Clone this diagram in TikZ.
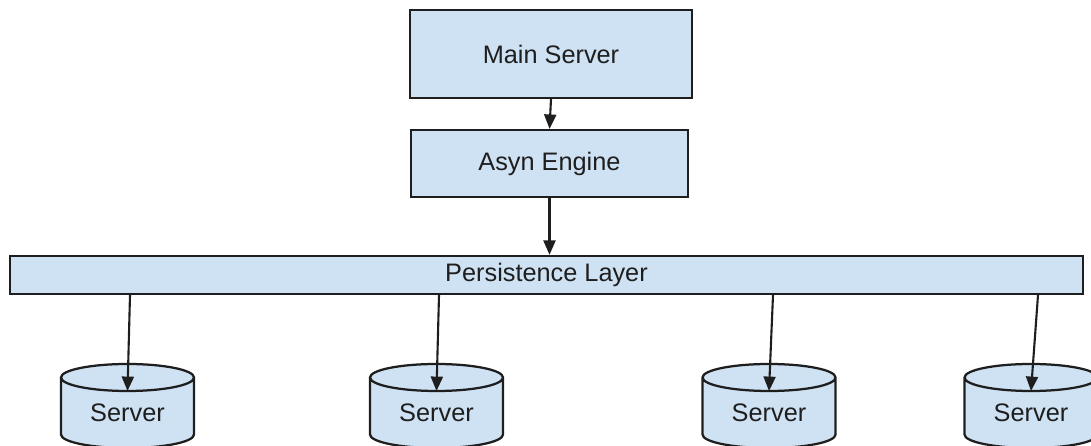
\documentclass[tikz,border=0pt]{standalone}
\usepackage{fontspec}
\setmainfont{Liberation Sans}
\usetikzlibrary{arrows.meta}

\definecolor{boxblue}{HTML}{CFE2F3}
\definecolor{ink}{HTML}{1E1E1E}

\begin{document}
\begin{tikzpicture}[
        box/.style = {draw = ink, line width = 1.6pt, fill = boxblue, text = ink,
            inner sep = 0pt, font = \fontsize{18pt}{21pt}\selectfont},
        link/.style = {draw = ink, line width = 1.5pt,
            -{Triangle[width = 0.3cm, length = 0.36cm]}}
    ]
        \useasboundingbox (0,0) rectangle (27.275,11.15);
        \node [box, minimum width = 7.05cm, minimum height = 2.2cm]
            (main) at (13.775, 9.8) {Main Server};
        \node [box, minimum width = 6.925cm, minimum height = 1.675cm]
            (asyn) at (13.7375, 7.0625) {Asyn Engine};
        \node [box, minimum width = 26.825cm, minimum height = 0.95cm]
            (layer) at (13.6625, 4.275) {Persistence Layer};
        \draw [link] (main.south) -- (asyn.north);
        \draw [link] (asyn.south) -- (asyn.south |- layer.north);
        % the four servers below the layer
        \foreach \n/\cx/\lx in {1/3.1875/3.25, 2/10.9125/10.975,
                3/19.225/19.325, 4/25.775/25.95} {
            \draw [draw = ink, line width = 1.6pt, fill = boxblue]
                (\cx - 1.6625, 1.7125) -- (\cx - 1.6625, 0.2875)
                arc [start angle = 180, end angle = 360,
                    x radius = 1.6625, y radius = 0.3375]
                -- (\cx + 1.6625, 1.7125)
                arc [start angle = 0, end angle = 360,
                    x radius = 1.6625, y radius = 0.3375];
            \node [box, draw = none, fill = none] (s\n) at (\cx, 0.825) {Server};
            \coordinate (top\n) at (\cx, 1.375);
            \coordinate (l\n) at (layer.south -| \lx,0);
            \draw [link] (l\n) -- (top\n);
        }
    \end{tikzpicture}
\end{document}
